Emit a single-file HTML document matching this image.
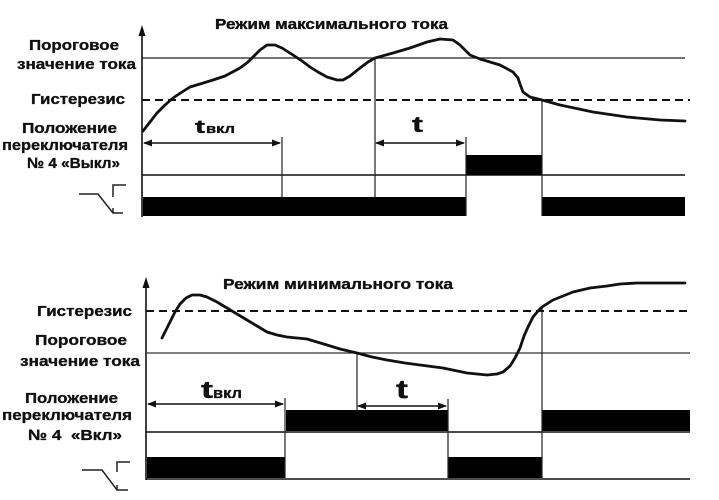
<!DOCTYPE html>
<html><head><meta charset="utf-8"><style>
html,body{margin:0;padding:0;background:#fff;}
svg{display:block;}
text{font-family:"Liberation Sans","Noto Sans CJK SC",sans-serif;font-weight:bold;fill:#111;stroke:#111;stroke-width:0.35;}
</style></head><body>
<svg width="719" height="500" viewBox="0 0 719 500" xmlns="http://www.w3.org/2000/svg">
<rect width="719" height="500" fill="#fff"/>

<!-- ===== TOP CHART ===== -->
<text x="215" y="29" font-size="14.5" textLength="233" lengthAdjust="spacingAndGlyphs">Режим максимального тока</text>

<text x="29" y="50" font-size="15" textLength="90" lengthAdjust="spacingAndGlyphs">Пороговое</text>
<text x="17" y="69" font-size="15" textLength="119" lengthAdjust="spacingAndGlyphs">значение тока</text>
<text x="31" y="104" font-size="15" textLength="94" lengthAdjust="spacingAndGlyphs">Гистерезис</text>
<text x="22" y="133" font-size="15" textLength="95" lengthAdjust="spacingAndGlyphs">Положение</text>
<text x="2" y="150" font-size="15" textLength="126" lengthAdjust="spacingAndGlyphs">переключателя</text>
<text x="27" y="168" font-size="15" textLength="93" lengthAdjust="spacingAndGlyphs">№ 4 «Выкл»</text>

<!-- axis -->
<line x1="142" y1="32" x2="142" y2="217" stroke="#111" stroke-width="1.6"/>
<polygon points="142,25 138.5,36 145.5,36" fill="#111"/>

<!-- threshold & hysteresis -->
<line x1="142" y1="58" x2="685" y2="58" stroke="#222" stroke-width="1.3"/>
<line x1="142" y1="100" x2="690" y2="100" stroke="#111" stroke-width="2" stroke-dasharray="8,5"/>

<!-- switch lines -->
<line x1="142" y1="175" x2="685" y2="175" stroke="#111" stroke-width="1.5"/>
<rect x="143" y="197" width="323" height="19" fill="#000"/>
<rect x="542" y="197" width="143" height="19" fill="#000"/>
<rect x="466" y="155" width="76" height="20" fill="#000"/>

<!-- verticals -->
<line x1="282" y1="137" x2="282" y2="197" stroke="#222" stroke-width="1.2"/>
<line x1="375" y1="58" x2="375" y2="197" stroke="#222" stroke-width="1.2"/>
<line x1="466" y1="137" x2="466" y2="216" stroke="#222" stroke-width="1.2"/>
<line x1="542" y1="100" x2="542" y2="216" stroke="#222" stroke-width="1.2"/>

<!-- arrows -->
<line x1="144" y1="143" x2="280" y2="143" stroke="#111" stroke-width="1.6"/>
<polygon points="143,143 152,139.5 152,146.5" fill="#111"/>
<polygon points="281,143 272,139.5 272,146.5" fill="#111"/>
<line x1="376" y1="143" x2="464" y2="143" stroke="#111" stroke-width="1.6"/>
<polygon points="375,143 384,139.5 384,146.5" fill="#111"/>
<polygon points="465,143 456,139.5 456,146.5" fill="#111"/>

<text x="195" y="133" font-size="18" textLength="10" lengthAdjust="spacingAndGlyphs">t</text>
<text x="206" y="133" font-size="13" textLength="29" lengthAdjust="spacingAndGlyphs">вкл</text>
<text x="412" y="132" font-size="22" textLength="11" lengthAdjust="spacingAndGlyphs">t</text>

<!-- curve -->
<polyline fill="none" stroke="#111" stroke-width="2.8" stroke-linejoin="round" stroke-linecap="round"
points="143,131 150,122 157,113 165,105 173,98 182,92 190,87 200,84 213,80 225,76 240,68 248,62 253,57 260,50 267,45 275,45 282,48 293,55 302,61 310,67 318,72 327,77 337,80 343,80 350,76 360,68 368,62 375,58 393,53 410,48 427,42 440,39 453,40 460,45 470,55 480,59 500,65 513,72 518,78 520,84 523,92 530,97 542,100 560,105 593,112 627,117 660,120 685,121"/>

<!-- relay symbol -->
<g fill="none" stroke="#222" stroke-width="1.5">
<polyline points="79,194 98,194 113,213 123,213"/>
<polyline points="113,208 113,213"/>
<polyline points="113,197 113,185 126,185"/>
</g>

<!-- ===== BOTTOM CHART ===== -->
<text x="223" y="289" font-size="14.5" textLength="230" lengthAdjust="spacingAndGlyphs">Режим минимального тока</text>

<text x="37" y="316" font-size="15" textLength="95" lengthAdjust="spacingAndGlyphs">Гистерезис</text>
<text x="35" y="345" font-size="15" textLength="92" lengthAdjust="spacingAndGlyphs">Пороговое</text>
<text x="20" y="366" font-size="15" textLength="120" lengthAdjust="spacingAndGlyphs">значение тока</text>
<text x="25" y="403" font-size="15" textLength="93" lengthAdjust="spacingAndGlyphs">Положение</text>
<text x="2" y="420" font-size="15" textLength="130" lengthAdjust="spacingAndGlyphs">переключателя</text>
<text x="28" y="440" font-size="15" textLength="94" lengthAdjust="spacingAndGlyphs" xml:space="preserve">№ 4  «Вкл»</text>

<!-- axis -->
<line x1="146" y1="284" x2="146" y2="480" stroke="#111" stroke-width="1.6"/>
<polygon points="146,277 142.5,288 149.5,288" fill="#111"/>

<line x1="146" y1="311" x2="690" y2="311" stroke="#111" stroke-width="2" stroke-dasharray="8,5"/>
<line x1="146" y1="353" x2="690" y2="353" stroke="#333" stroke-width="1.3"/>

<rect x="286" y="410" width="162" height="21" fill="#000"/>
<rect x="542" y="410" width="148" height="21" fill="#000"/>
<line x1="146" y1="432" x2="690" y2="432" stroke="#111" stroke-width="1.5"/>
<rect x="147" y="457" width="138" height="21" fill="#000"/>
<rect x="448" y="457" width="94" height="21" fill="#000"/>
<line x1="146" y1="479" x2="690" y2="479" stroke="#111" stroke-width="1.5"/>

<line x1="285" y1="398" x2="285" y2="478" stroke="#222" stroke-width="1.2"/>
<line x1="357" y1="353" x2="357" y2="410" stroke="#222" stroke-width="1.2"/>
<line x1="448" y1="399" x2="448" y2="478" stroke="#222" stroke-width="1.2"/>
<line x1="542" y1="308" x2="542" y2="478" stroke="#222" stroke-width="1.2"/>

<line x1="148" y1="404" x2="283" y2="404" stroke="#111" stroke-width="1.6"/>
<polygon points="147,404 156,400.5 156,407.5" fill="#111"/>
<polygon points="284,404 275,400.5 275,407.5" fill="#111"/>
<line x1="358" y1="406" x2="446" y2="406" stroke="#111" stroke-width="1.6"/>
<polygon points="357,406 366,402.5 366,409.5" fill="#111"/>
<polygon points="447,406 438,402.5 438,409.5" fill="#111"/>

<text x="201" y="398" font-size="24" textLength="12" lengthAdjust="spacingAndGlyphs">t</text>
<text x="213" y="398" font-size="15" textLength="29" lengthAdjust="spacingAndGlyphs">вкл</text>
<text x="396" y="398" font-size="26" textLength="12" lengthAdjust="spacingAndGlyphs">t</text>

<polyline fill="none" stroke="#111" stroke-width="2.8" stroke-linejoin="round" stroke-linecap="round"
points="162,338 166,330 170,322 175,312 180,304 186,298 192,295 200,295 207,297 217,302 227,308 237,314 247,320 257,326 267,332 277,335 287,337 297,338 307,339 317,342 327,345 340,349 357,353 372,357 387,360 405,363 420,365 443,368 467,373 487,375 497,374 503,372 510,366 515,358 520,348 524,336 528,327 533,317 538,311 542,307 553,300 573,292 590,288 607,286 620,284 637,283 685,283"/>

<g fill="none" stroke="#222" stroke-width="1.5">
<polyline points="82,470 102,470 117,490 128,490"/>
<polyline points="117,485 117,490"/>
<polyline points="117,472 117,462 130,462"/>
</g>
</svg>
</body></html>
